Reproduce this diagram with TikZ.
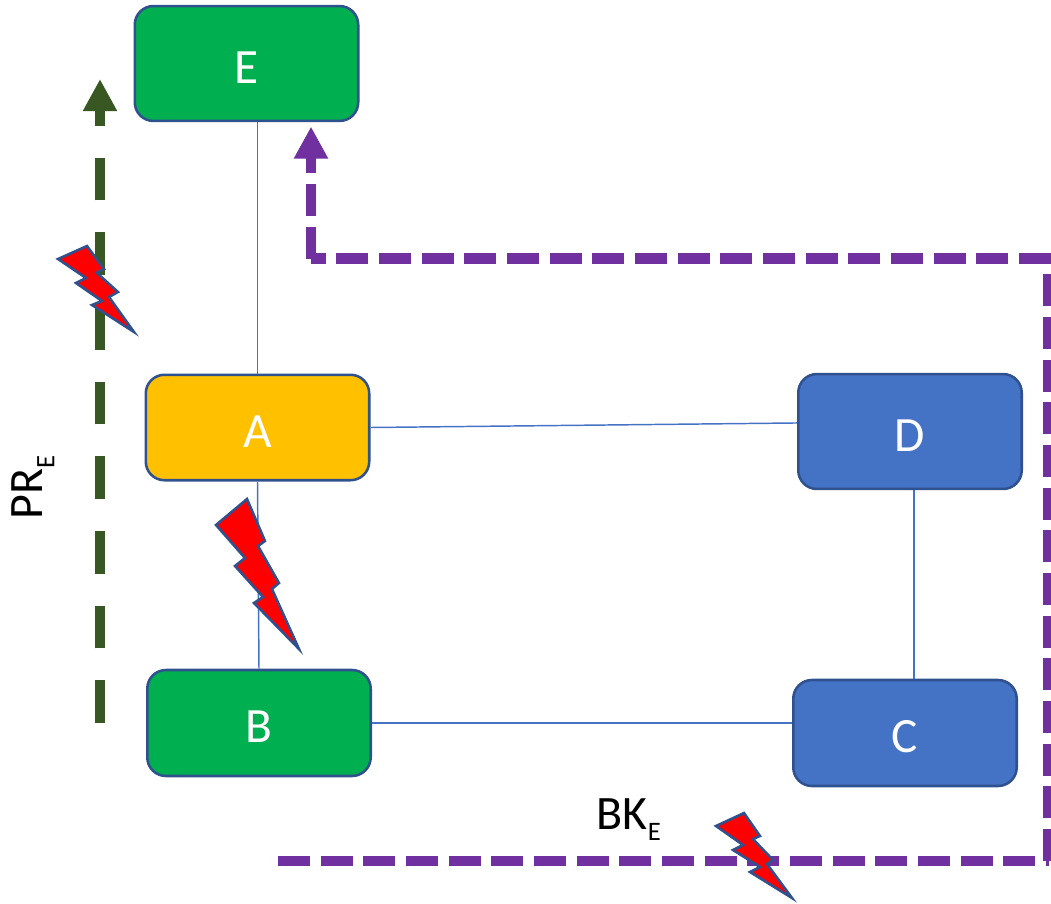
\documentclass[tikz,border=0pt]{standalone}
\usepackage{fontspec}
\setmainfont{Carlito}
\usetikzlibrary{arrows.meta,calc}
\definecolor{boxline}{HTML}{2F528F}
\definecolor{linkblue}{HTML}{4472C4}
\definecolor{bluefill}{HTML}{4472C4}
\definecolor{greenfill}{HTML}{00B050}
\definecolor{amberfill}{HTML}{FFC000}
\definecolor{pathpurple}{HTML}{7030A0}
\definecolor{pathgreen}{HTML}{385723}
\tikzset{
  x=0.75pt,y=-0.75pt,
  netbox/.style={draw=boxline,line width=1.9pt,rounded corners=14pt,inner sep=0pt,
    text=white,font=\fontsize{37}{40}\selectfont,text height=29.8pt,text depth=0pt,
    minimum width=167.6pt},
  link/.style={draw=linkblue,line width=1.1pt},
  purplepath/.style={draw=pathpurple,line width=8pt,dash pattern=on 24pt off 8pt},
  greenpath/.style={draw=pathgreen,line width=8pt,dash pattern=on 32pt off 24pt},
  bolt/.style={draw=boxline,fill=red,line width=1.9pt,miter limit=10},
  lbl/.style={inner sep=0pt,font=\fontsize{36}{40}\selectfont,anchor=base west},
}
\newcommand{\subE}{\raisebox{-8.7pt}{\fontsize{20}{24}\selectfont E}}
\begin{document}
\begin{tikzpicture}
\useasboundingbox (0,0) rectangle (1051,904);
% nodes
\node[netbox,fill=greenfill,minimum height=86.2pt] (E) at (246.5,63.5) {E};
\node[netbox,fill=amberfill,minimum height=79.1pt] (A) at (257.5,427.5) {A};
\node[netbox,fill=greenfill,minimum height=79.5pt] (B) at (259,723) {B};
\node[netbox,fill=bluefill,minimum height=86.2pt] (D) at (910,431.5) {D};
\node[netbox,fill=bluefill,minimum height=79.5pt] (C) at (905,733) {C};
% connectors
\draw[link] (E.south -| A.north) -- (A.north);
\draw[link] (A.south) -- (B.north);
\draw[link] (A.east) -- ([yshift=6.4pt]D.west);
\draw[link] (B.east) -- ([yshift=7.5pt]C.west);
\draw[link] ([xshift=3pt]D.south) -- ([xshift=6.75pt]C.north);
% protection and backup paths
\coordinate (g0) at (100,723);
\coordinate (g1) at (100,79);
\draw[greenpath,-{Triangle[length=24pt,width=24pt]},pathgreen] (g0) -- (g1);
\coordinate (p0) at (278,861);
\coordinate (p1) at (1048.5,861);
\coordinate (p2) at (1048.5,258.5);
\coordinate (p3) at (1051,258.5);
\coordinate (p4) at (311,258.5);
\coordinate (p5) at (311,126.5);
\draw[purplepath] (p0) -- (p1);
\draw[purplepath] (p1) -- (p2);
\draw[purplepath] (p3) -- (p4);
\draw[purplepath,-{Triangle[length=24pt,width=24pt]},pathpurple] (p4) -- (p5);
% labels
\node[lbl,rotate=90] (PR) at (42.7,520) {PR\subE};
\node[lbl] (BK) at (596.5,829.3) {BK\subE};
% faults
\draw[bolt] (58,259) -- (87,246) -- (104,269) -- (96.7,272.7) -- (118,292) -- (109,297) -- (134,332) -- (92,305) -- (102,301) -- (76,283) -- (86,278) -- cycle;
\draw[bolt] (216,525) -- (247,499) -- (265,541) -- (258,546) -- (279,583) -- (272,589) -- (299,649) -- (254,603) -- (263,597) -- (235,566) -- (245,558) -- cycle;
\draw[bolt] (716,826) -- (744,813) -- (760,836) -- (753,839) -- (773,860) -- (767,864) -- (792,898) -- (750,872) -- (760,867) -- (733,850) -- (743,845) -- cycle;
\end{tikzpicture}
\end{document}
